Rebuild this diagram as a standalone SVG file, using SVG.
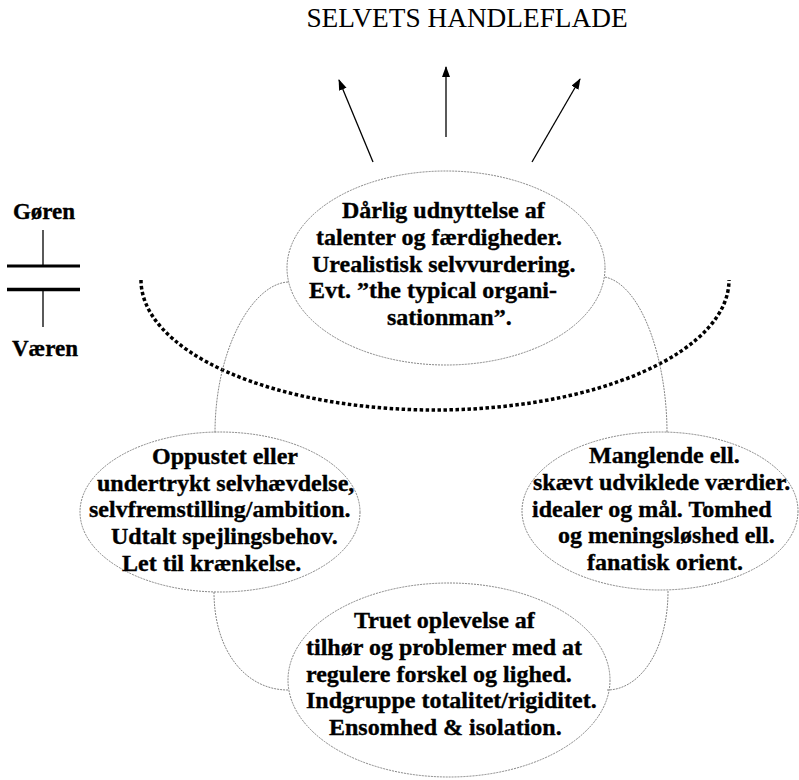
<svg xmlns="http://www.w3.org/2000/svg" width="799" height="780" viewBox="0 0 799 780">
  <style>
    .t { font-family: "Liberation Serif", "Times New Roman", serif; font-weight: bold; font-size: 24px; fill: #000; stroke: #000; stroke-width: 0.35; }
    .title { font-family: "Liberation Serif", "Times New Roman", serif; font-size: 27.3px; fill: #000; }
    .side { font-family: "Liberation Serif", "Times New Roman", serif; font-weight: bold; font-size: 23px; fill: #000; stroke: #000; stroke-width: 0.35; }
    .node { fill: none; stroke: #777; stroke-width: 0.9; stroke-dasharray: 2 1; }
    .conn { fill: none; stroke: #777; stroke-width: 0.9; stroke-dasharray: 2 1; }
    .arrow { stroke: #000; stroke-width: 1.3; marker-end: url(#ah); }
  </style>
  <defs>
    <marker id="ah" markerWidth="12" markerHeight="10" refX="10" refY="4" orient="auto" markerUnits="userSpaceOnUse">
      <path d="M0,0 L11,4 L0,8 Z" fill="#000"/>
    </marker>
  </defs>
  <rect width="799" height="780" fill="#fff"/>

  <text class="title" x="467" y="27" text-anchor="middle">SELVETS HANDLEFLADE</text>

  <g id="arrows">
    <line class="arrow" x1="373" y1="162" x2="339" y2="80"/>
    <line class="arrow" x1="446" y1="137" x2="446" y2="67"/>
    <line class="arrow" x1="532" y1="162" x2="580" y2="79"/>
  </g>

  <g id="goren-vaeren">
    <text class="side" x="44" y="219" text-anchor="middle">Gøren</text>
    <line x1="43" y1="230" x2="43" y2="266" stroke="#000" stroke-width="1.3"/>
    <line x1="7" y1="266" x2="80" y2="266" stroke="#000" stroke-width="3"/>
    <line x1="7" y1="289.5" x2="80" y2="289.5" stroke="#000" stroke-width="3.5"/>
    <line x1="43" y1="291" x2="43" y2="327" stroke="#000" stroke-width="1.3"/>
    <text class="side" x="45" y="356" text-anchor="middle">Væren</text>
  </g>

  <path id="boundary" d="M141,280 A294,130 0 0,0 729,280" fill="none" stroke="#000" stroke-width="3.5" stroke-dasharray="3.5 2.5"/>

  <g id="connectors">
    <path class="conn" d="M288,282 C252,284 215,350 215,433"/>
    <path class="conn" d="M605,277 C642,285 667,360 667,433"/>
    <path class="conn" d="M214,592 C214,650 245,690 288,690"/>
    <path class="conn" d="M668,591 C668,650 640,690 607,690"/>
  </g>

  <g id="node-top">
    <ellipse class="node" cx="446" cy="268" rx="159" ry="97"/>
    <text class="t" x="342" y="218">Dårlig udnyttelse af</text>
    <text class="t" x="316" y="245">talenter og færdigheder.</text>
    <text class="t" x="312" y="272">Urealistisk selvvurdering.</text>
    <text class="t" x="309" y="298">Evt. ”the typical organi-</text>
    <text class="t" x="387" y="325">sationman”.</text>
  </g>

  <g id="node-left">
    <ellipse class="node" cx="220" cy="512" rx="140" ry="80"/>
    <text class="t" x="152" y="464">Oppustet eller</text>
    <text class="t" x="97" y="491">undertrykt selvhævdelse,</text>
    <text class="t" x="89" y="517">selvfremstilling/ambition.</text>
    <text class="t" x="111" y="544">Udtalt spejlingsbehov.</text>
    <text class="t" x="122" y="571">Let til krænkelse.</text>
  </g>

  <g id="node-right">
    <ellipse class="node" cx="660" cy="511" rx="138" ry="79"/>
    <text class="t" x="589" y="463">Manglende ell.</text>
    <text class="t" x="533" y="490">skævt udviklede værdier.</text>
    <text class="t" x="532" y="517">idealer og mål. Tomhed</text>
    <text class="t" x="558" y="543">og meningsløshed ell.</text>
    <text class="t" x="587" y="570">fanatisk orient.</text>
  </g>

  <g id="node-bottom">
    <ellipse class="node" cx="449" cy="680" rx="161" ry="97"/>
    <text class="t" x="354" y="628">Truet oplevelse af</text>
    <text class="t" x="306" y="655">tilhør og problemer med at</text>
    <text class="t" x="306" y="682">regulere forskel og lighed.</text>
    <text class="t" x="306" y="708">Indgruppe totalitet/rigiditet.</text>
    <text class="t" x="329" y="735">Ensomhed &amp; isolation.</text>
  </g>
</svg>
